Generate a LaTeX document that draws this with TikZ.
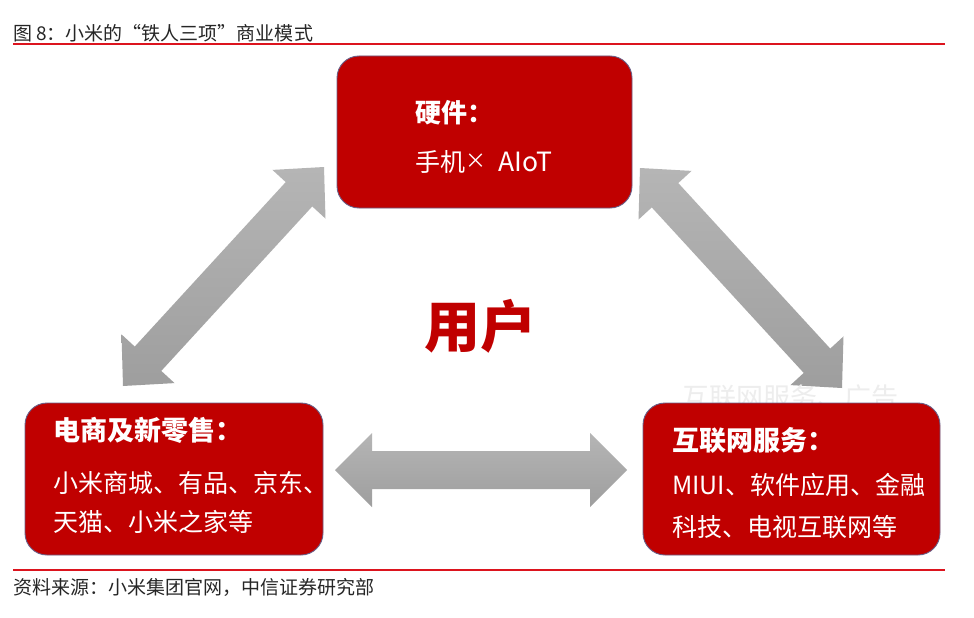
\documentclass[tikz,border=0pt]{standalone}
\usepackage{fontspec}
\setmainfont{Noto Sans CJK SC}
\usetikzlibrary{calc}
\definecolor{boxred}{RGB}{192,0,0}
\definecolor{rulered}{RGB}{220,20,30}
\definecolor{boxline}{RGB}{105,95,135}
\newcommand\blockarrow[5]{%
  \coordinate (#1h) at ($(#1)!#5!(#2)$);
  \coordinate (#2h) at ($(#2)!#5!(#1)$);
  \shade[arrowfill] (#1) -- ($(#1h)!#4!90:(#2)$) -- ($(#1h)!#3!90:(#2)$)
    -- ($(#2h)!#3!-90:(#1)$) -- ($(#2h)!#4!-90:(#1)$) -- (#2)
    -- ($(#2h)!#4!90:(#1)$) -- ($(#2h)!#3!90:(#1)$)
    -- ($(#1h)!#3!-90:(#2)$) -- ($(#1h)!#4!-90:(#2)$) -- cycle;}
\tikzset{
  arrowfill/.style={top color=black!29, bottom color=black!38},
  redbox/.style={draw=boxline, line width=0.9pt, fill=boxred, rounded corners=22pt, inner sep=0pt},
  boxtitle/.style={anchor=west, text=white, inner sep=0pt, font=\bfseries\fontsize{27}{32}\selectfont},
  boxbody/.style={anchor=west, text=white, inner sep=0pt, font=\fontsize{25}{30}\selectfont},
  caption/.style={anchor=west, text=black!85, inner sep=0pt, font=\fontsize{19}{23}\selectfont},
  rule/.style={draw=rulered, line width=1.1pt}
}
\begin{document}
\begin{tikzpicture}[x=1pt,y=-1pt]
\useasboundingbox[fill=white] (0,0) rectangle (974,618);
% title and source
\node[caption] (title) at (13,33) {图 8：小米的“铁人三项”商业模式};
\coordinate (t1) at (13,44); \coordinate (t2) at (945,44);
\draw[rule] (t1) -- (t2);
\coordinate (b1) at (13,570); \coordinate (b2) at (945,570);
\draw[rule] (b1) -- (b2);
\node[caption] (source) at (13,587) {资料来源：小米集团官网，中信证券研究部};
% arrows
\coordinate (hl) at (335,470); \coordinate (hr) at (627,470);
\coordinate (la) at (123,386); \coordinate (lb) at (324,167);
\coordinate (ra) at (640,168); \coordinate (rb) at (842,388);
\blockarrow{hl}{hr}{19pt}{37pt}{37pt}
\blockarrow{la}{lb}{18pt}{36pt}{37pt}
\blockarrow{ra}{rb}{18pt}{36pt}{37pt}
% ghost text
\node[text=black!7, inner sep=0pt, font=\fontsize{27}{32}\selectfont] (ghost) at (790,397) {互联网服务、广告};
% boxes
\node[redbox, minimum width=295pt, minimum height=152pt] (hw) at (484.5,132) {};
\node[redbox, minimum width=298pt, minimum height=152pt] (ec) at (174,479) {};
\node[redbox, minimum width=297pt, minimum height=152pt] (is) at (791.5,479) {};
% box texts
\node[boxtitle, font=\bfseries\fontsize{26}{30}\selectfont] (hwt) at (415,113) {硬件：};
\node[boxbody] (hwb) at (415,162) {手机\raisebox{3pt}{\fontsize{21}{22}\selectfont×}\hspace{12pt}{\fontsize{26.5}{30}\selectfont AIoT}};
\node[boxtitle] (ect) at (53,430) {电商及新零售：};
\node[boxbody] (ecb1) at (53,483) {小米商城、有品、京东、};
\node[boxbody] (ecb2) at (53,522) {天猫、小米之家等};
\node[boxtitle] (ist) at (672,440) {互联网服务：};
\node[boxbody] (isb1) at (672,485) {MIUI、软件应用、金融};
\node[boxbody] (isb2) at (672,527) {科技、电视互联网等};
% center
\node[text=boxred, inner sep=0pt, font=\bfseries\fontsize{56}{60}\selectfont] (user) at (480,326) {用户};
\end{tikzpicture}
\end{document}
